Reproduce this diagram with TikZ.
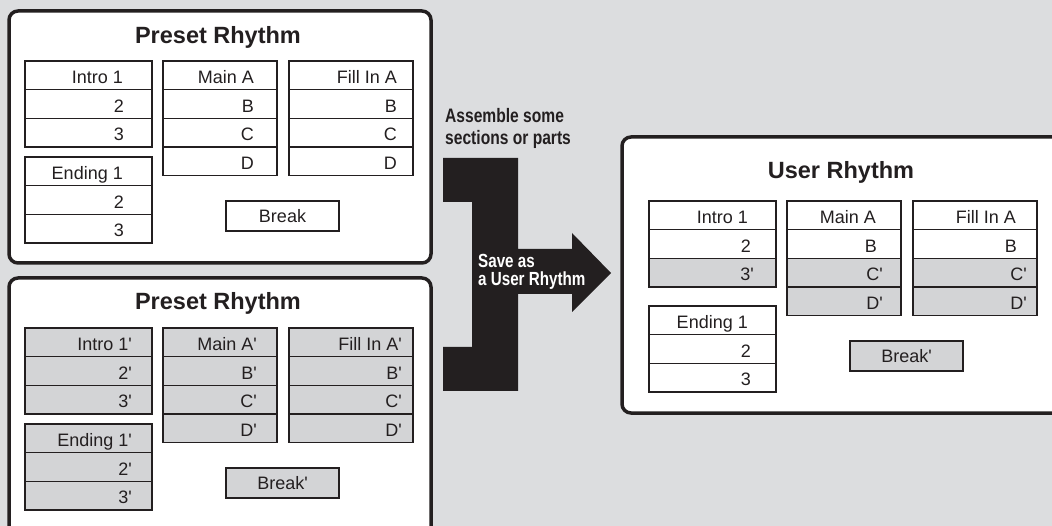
\documentclass[tikz,border=0pt]{standalone}
\usepackage{fontspec}
\setmainfont{Liberation Sans}
\definecolor{bgc}{HTML}{DCDDDF}
\definecolor{shade}{HTML}{D3D4D6}
\definecolor{ink}{HTML}{231F20}
\newcommand\pr{\textquotesingle}
\newcommand\cellfont{\fontsize{18}{20}\selectfont}
\newcommand\titlefont{\bfseries\fontsize{23.5}{28}\selectfont}
\newcommand\notefont{\bfseries\fontsize{19.5}{22}\selectfont}
\tikzset{
  cellbox/.style={draw=ink, line width=1.3pt, rectangle, anchor=north west, outer sep=0pt,
    inner sep=0pt, minimum height=28.7pt},
  celltext/.style={anchor=base east, inner sep=0pt, font=\cellfont, text=ink},
  breakbox/.style={cellbox, minimum width=113pt, minimum height=30pt},
  breaktext/.style={anchor=base, inner sep=0pt, font=\cellfont, text=ink},
  panel/.style={draw=ink, line width=3.5pt, rounded corners=9pt, fill=white},
  title/.style={font=\titlefont, anchor=base, inner sep=0pt, text=ink},
  note/.style={anchor=base west, inner sep=0pt, font=\notefont},
}
\newcommand\stack[5]{%
  \foreach \t/\f/\n [count=\i from 0] in {#5} {
    \pgfmathsetmacro\yy{#3+28.7*\i}
    \node[cellbox, fill=\f, minimum width=#4pt] (#1-\i) at (#2,\yy) {};
    \node[celltext] (#1-\i-t) at ([xshift=-\n pt, yshift=-22.5pt]#1-\i.north east) {\t};
  }}
\newcommand\twolines[4]{\parbox[t]{150pt}{\raggedright\fontsize{#4}{#1}\selectfont
  \scalebox{0.8}[1]{#2}\\\scalebox{0.8}[1]{#3}}}
\begin{document}
\begin{tikzpicture}[x=1pt,y=-1pt]
\useasboundingbox (0,0) rectangle (1052,526);
\fill[bgc] (0,0) rectangle (1052,526);

% panels
\draw[panel] (9,11) rectangle (431,263);
\draw[panel] (9,278) rectangle (431,545);
\draw[panel] (622,137) rectangle (1075,413);

% titles
\node[title] (t1) at (218,43.3) {Preset Rhythm};
\node[title] (t2) at (218,310) {Preset Rhythm};
\node[title] (t3) at (841,178.3) {User Rhythm};

% top preset
\stack{a1}{25}{61}{127}{Intro 1/white/29, 2/white/28, 3/white/28}
\stack{a2}{25}{157}{127}{Ending 1/white/29, 2/white/28, 3/white/28}
\stack{a3}{163}{61}{114}{Main A/white/23, B/white/23, C/white/23, D/white/23}
\stack{a4}{289}{61}{124}{Fill In A/white/16, B/white/16, C/white/16, D/white/16}
\node[breakbox, fill=white] (a5) at (226,201) {};
\node[breaktext] (a5-t) at ([yshift=-21.7pt]a5.north) {Break};

% bottom preset
\stack{b1}{25}{328}{127}{Intro 1\pr/shade/20, 2\pr/shade/20, 3\pr/shade/20}
\stack{b2}{25}{424}{127}{Ending 1\pr/shade/20, 2\pr/shade/20, 3\pr/shade/20}
\stack{b3}{163}{328}{114}{Main A\pr/shade/20, B\pr/shade/20, C\pr/shade/20, D\pr/shade/20}
\stack{b4}{289}{328}{124}{Fill In A\pr/shade/11, B\pr/shade/11, C\pr/shade/11, D\pr/shade/11}
\node[breakbox, fill=shade] (b5) at (226,468) {};
\node[breaktext] (b5-t) at ([yshift=-21.7pt]b5.north) {Break\pr};

% user rhythm
\stack{c1}{649}{201}{127}{Intro 1/white/28, 2/white/25, 3\pr/shade/22}
\stack{c2}{649}{306}{127}{Ending 1/white/28, 2/white/25, 3/white/25}
\stack{c3}{787}{201}{114}{Main A/white/25, B/white/24, C\pr/shade/18, D\pr/shade/18}
\stack{c4}{913}{201}{124}{Fill In A/white/21, B/white/20, C\pr/shade/10, D\pr/shade/10}
\node[breakbox, fill=shade] (c5) at (850,341) {};
\node[breaktext] (c5-t) at ([yshift=-21.7pt]c5.north) {Break\pr};

% arrow
\fill[ink] (443,158) -- (518,158) -- (518,249) -- (572,249) -- (572,233) -- (611,273)
  -- (572,312) -- (572,294) -- (518,294) -- (518,391) -- (443,391) -- (443,347)
  -- (472,347) -- (472,202) -- (443,202) -- cycle;

% notes
\node[note, text=ink] (n1) at (445,122.7) {\twolines{22.3}{Assemble some}{sections or parts}{19.5}};
\node[note, text=white] (s1) at (478,267.5) {\twolines{17.6}{Save as}{a User Rhythm}{19}};
\end{tikzpicture}
\end{document}
